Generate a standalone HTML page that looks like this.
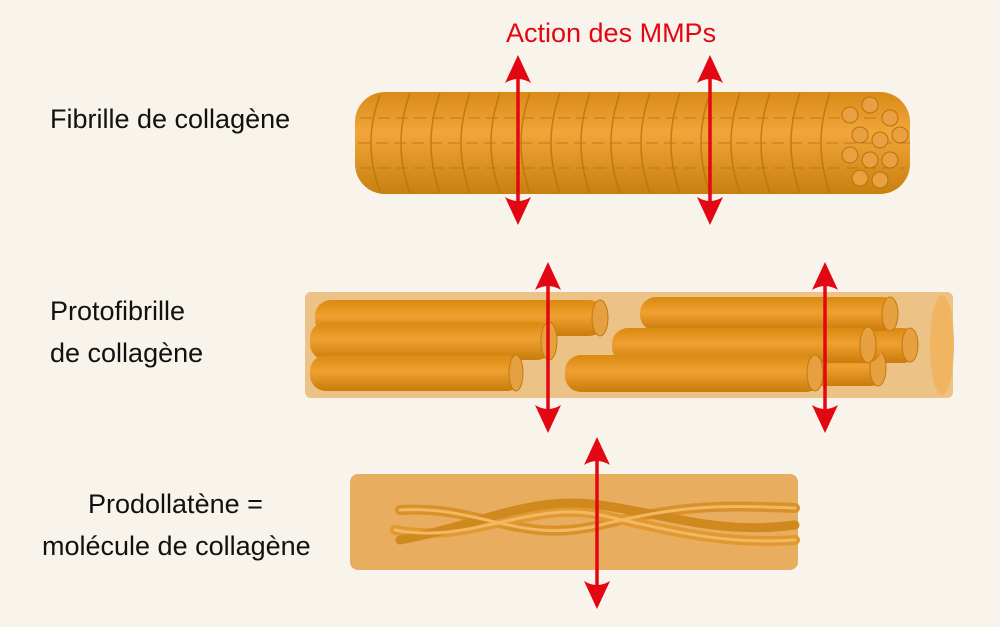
<!DOCTYPE html>
<html><head><meta charset="utf-8"><style>
body{margin:0;background:#f8f4ec;}
svg{display:block}
text{font-family:"Liberation Sans",sans-serif;font-size:27px;fill:#111}
</style></head><body>
<svg width="1000" height="627" viewBox="0 0 1000 627">
<defs>
<linearGradient id="cyl" x1="0" y1="0" x2="0" y2="1">
<stop offset="0" stop-color="#d98a10"/><stop offset="0.45" stop-color="#f0a030"/><stop offset="1" stop-color="#c97c0a"/></linearGradient>
<linearGradient id="fib" x1="0" y1="0" x2="0" y2="1">
<stop offset="0" stop-color="#d98b18"/><stop offset="0.4" stop-color="#f2a53a"/><stop offset="1" stop-color="#c8800f"/></linearGradient>
<path id="up" d="M0 0 L13 28 Q0 20 -13 28 Z" fill="#e30613"/>
</defs>
<text x="506" y="42" style="fill:#e30613">Action des MMPs</text>
<text x="50" y="128">Fibrille de collagène</text>
<text x="50" y="320">Protofibrille</text>
<text x="50" y="362">de collagène</text>
<text x="88" y="513">Prodollatène =</text>
<text x="42" y="555">molécule de collagène</text>

<!-- fibrille -->
<rect x="355" y="92" width="555" height="102" rx="30" fill="url(#fib)"/>
<g fill="none" stroke="#b8720a" stroke-width="1.5" opacity="0.8">
<path d="M380 95 q-18 48 0 96 M410 93 q-18 50 0 100 M440 93 q-18 50 0 100 M470 93 q-18 50 0 100 M500 93 q-18 50 0 100 M530 93 q-18 50 0 100 M560 93 q-18 50 0 100 M590 93 q-18 50 0 100 M620 93 q-18 50 0 100 M650 93 q-18 50 0 100 M680 93 q-18 50 0 100 M710 93 q-18 50 0 100 M740 93 q-18 50 0 100 M770 93 q-18 50 0 100 M800 93 q-18 50 0 100 M830 93 q-18 50 0 100"/>
<path d="M360 118 H900 M358 143 H910 M360 168 H905" stroke-dasharray="12 6" stroke-width="1"/>
</g>
<g fill="#e9a040" stroke="#b8720a" stroke-width="1">
<circle cx="850" cy="115" r="8"/><circle cx="870" cy="105" r="8"/><circle cx="890" cy="118" r="8"/><circle cx="860" cy="135" r="8"/><circle cx="880" cy="140" r="8"/><circle cx="900" cy="135" r="8"/><circle cx="850" cy="155" r="8"/><circle cx="870" cy="160" r="8"/><circle cx="890" cy="160" r="8"/><circle cx="860" cy="178" r="8"/><circle cx="880" cy="180" r="8"/>
</g>

<!-- protofibrille -->
<rect x="305" y="292" width="648" height="106" rx="6" fill="#ecc287"/>
<ellipse cx="942" cy="345" rx="12" ry="50" fill="#f0b560"/>
<g>
<rect x="315" y="300" width="290" height="36" rx="16" fill="url(#cyl)"/><ellipse cx="600" cy="318" rx="8" ry="18" fill="#e6a040" stroke="#c07a10"/>
<rect x="310" y="322" width="243" height="38" rx="16" fill="url(#cyl)"/><ellipse cx="549" cy="341" rx="8" ry="19" fill="#e6a040" stroke="#c07a10"/>
<rect x="310" y="355" width="213" height="36" rx="16" fill="url(#cyl)"/><ellipse cx="516" cy="373" rx="7" ry="18" fill="#e6a040" stroke="#c07a10"/>
<rect x="835" y="328" width="82" height="35" rx="14" fill="url(#cyl)"/><ellipse cx="910" cy="345" rx="8" ry="17" fill="#e6a040" stroke="#c07a10"/>
<rect x="800" y="350" width="85" height="36" rx="14" fill="url(#cyl)"/><ellipse cx="878" cy="368" rx="8" ry="18" fill="#e6a040" stroke="#c07a10"/>
<rect x="640" y="297" width="258" height="34" rx="16" fill="url(#cyl)"/><ellipse cx="890" cy="314" rx="8" ry="17" fill="#e6a040" stroke="#c07a10"/>
<rect x="612" y="328" width="270" height="35" rx="16" fill="url(#cyl)"/><ellipse cx="868" cy="345" rx="8" ry="18" fill="#e6a040" stroke="#c07a10"/>
<rect x="565" y="355" width="257" height="37" rx="16" fill="url(#cyl)"/><ellipse cx="815" cy="373" rx="8" ry="18" fill="#e6a040" stroke="#c07a10"/>
</g>

<!-- procollagene -->
<rect x="350" y="474" width="448" height="96" rx="8" fill="#e8ad5e"/>
<g fill="none" stroke-linecap="round">
<path d="M400 510 C480 505 520 545 600 525 S720 505 795 508" stroke="#d9912a" stroke-width="10"/>
<path d="M395 530 C470 545 530 500 600 515 S720 545 795 540" stroke="#e29a30" stroke-width="10"/>
<path d="M400 540 C480 525 530 495 600 505 S720 535 795 525" stroke="#d0891f" stroke-width="9"/>
<path d="M400 510 C480 505 520 545 600 525 S720 505 795 508 M395 530 C470 545 530 500 600 515 S720 545 795 540" stroke="#f2b864" stroke-width="3"/>
</g>

<!-- arrows -->
<g stroke="#e30613" stroke-width="3.5">
<line x1="518" y1="70" x2="518" y2="210"/>
<line x1="710" y1="70" x2="710" y2="210"/>
<line x1="548" y1="277" x2="548" y2="418"/>
<line x1="825" y1="277" x2="825" y2="418"/>
<line x1="597" y1="452" x2="597" y2="594"/>
</g>
<use href="#up" transform="translate(518,55)"/><use href="#up" transform="translate(518,225) scale(1,-1)"/>
<use href="#up" transform="translate(710,55)"/><use href="#up" transform="translate(710,225) scale(1,-1)"/>
<use href="#up" transform="translate(548,262)"/><use href="#up" transform="translate(548,433) scale(1,-1)"/>
<use href="#up" transform="translate(825,262)"/><use href="#up" transform="translate(825,433) scale(1,-1)"/>
<use href="#up" transform="translate(597,437)"/><use href="#up" transform="translate(597,609) scale(1,-1)"/>
</svg>
</body></html>
